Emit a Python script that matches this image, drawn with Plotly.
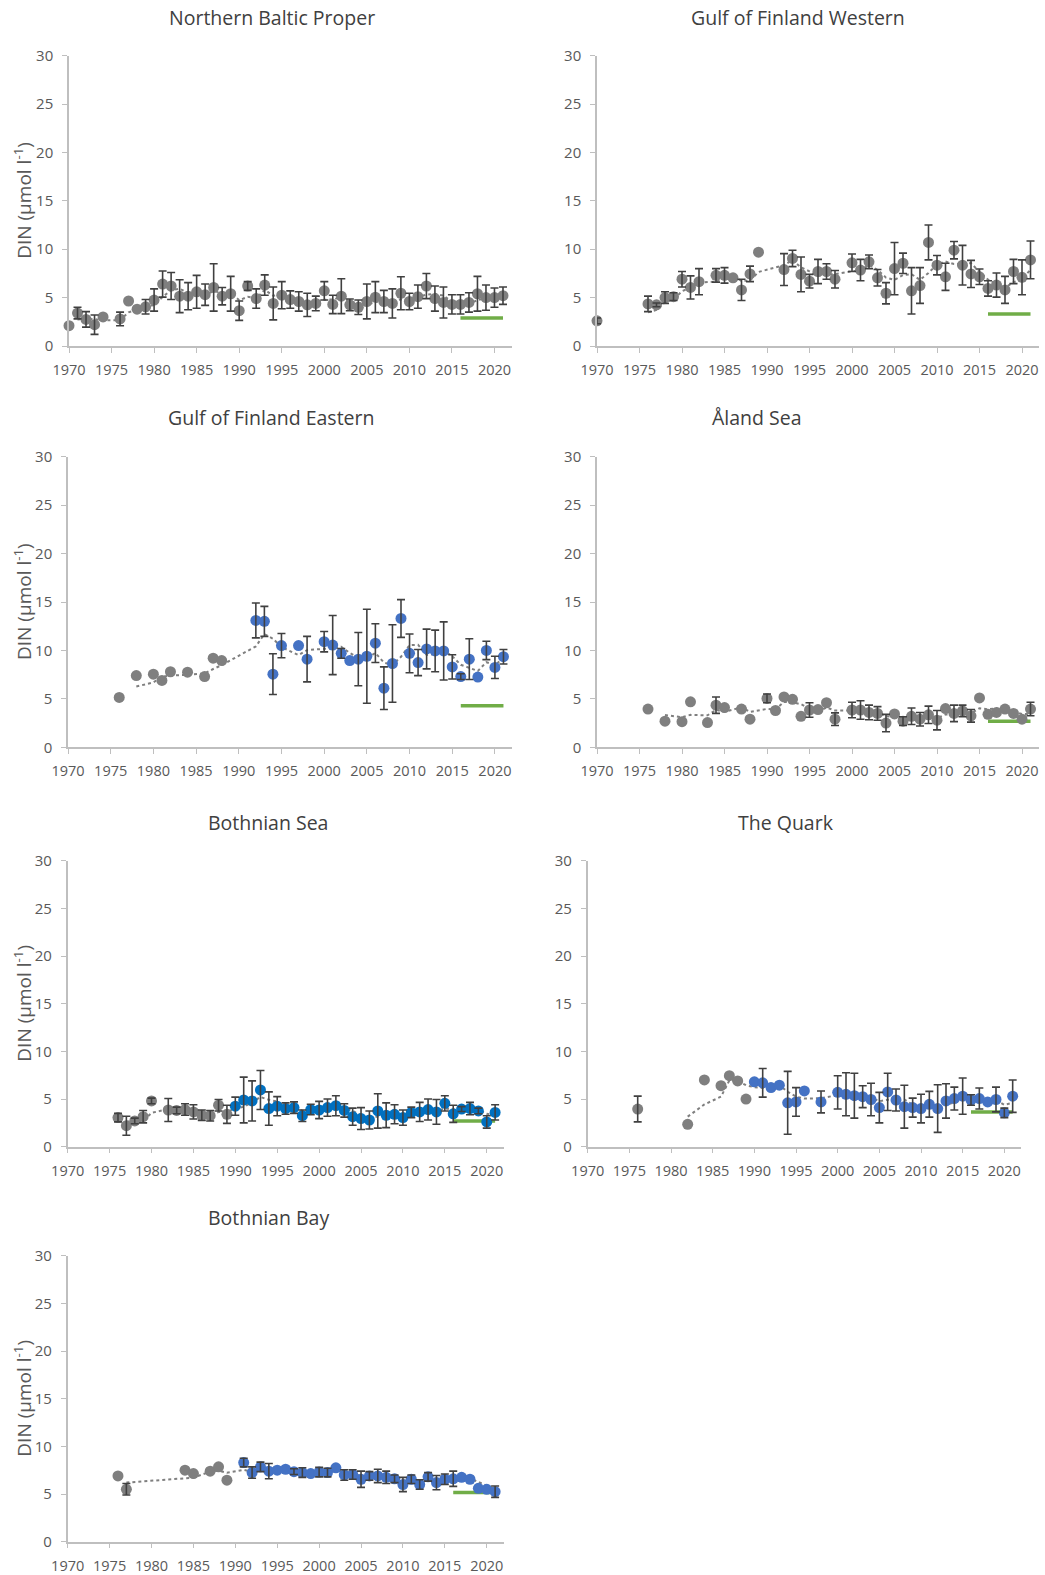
import numpy as np
import pandas as pd
import plotly.graph_objects as go

W, H = 1045, 1575
TARGET_YEARS = [2016, 2021]
XTICKS = list(range(1970, 2021, 5))

# ---------------- Northern Baltic Proper ----------------
NBP_YEARS = [1970, 1971, 1972, 1973, 1974, 1976, 1977, 1978, 1979, 1980, 1981, 1982, 1983, 1984, 1985,
             1986, 1987, 1988, 1989, 1990, 1991, 1992, 1993, 1994, 1995, 1996, 1997, 1998, 1999, 2000,
             2001, 2002, 2003, 2004, 2005, 2006, 2007, 2008, 2009, 2010, 2011, 2012, 2013, 2014, 2015,
             2016, 2017, 2018, 2019, 2020, 2021]
NBP_DIN = [2.1, 3.4, 2.75, 2.2, 3.0, 2.8, 4.65, 3.8, 4.05, 4.75, 6.4, 6.2, 5.15, 5.15, 5.6,
           5.3, 6.05, 5.15, 5.4, 3.65, 6.2, 4.9, 6.3, 4.4, 5.25, 4.8, 4.6, 4.25, 4.4, 5.7,
           4.3, 5.15, 4.25, 4.0, 4.6, 5.05, 4.6, 4.4, 5.45, 4.6, 5.1, 6.2, 4.9, 4.5, 4.3,
           4.3, 4.5, 5.4, 5.0, 5.0, 5.2]
NBP_ERR = [None, 0.6, 0.8, 1.0, None, 0.7, None, None, 0.75, 1.15, 1.35, 1.4, 1.7, 1.4, 1.7,
           1.1, 2.45, 0.9, 1.8, 1.0, 0.45, 1.0, 1.05, 1.7, 1.4, 0.9, 1.0, 1.2, 0.75, 0.95,
           0.95, 1.8, 0.6, 0.75, 1.8, 1.6, 1.15, 1.5, 1.7, 0.85, 1.2, 1.3, 1.3, 1.6, 1.0,
           1.0, 1.0, 1.8, 1.3, 1.0, 0.9]
NBP_TARGET = 2.9

# ---------------- Gulf of Finland Western ----------------
GFW_YEARS = [1970, 1976, 1977, 1978, 1979, 1980, 1981, 1982, 1984, 1985, 1986, 1987, 1988, 1989,
             1992, 1993, 1994, 1995, 1996, 1997, 1998, 2000, 2001, 2002, 2003, 2004, 2005, 2006,
             2007, 2008, 2009, 2010, 2011, 2012, 2013, 2014, 2015, 2016, 2017, 2018, 2019, 2020, 2021]
GFW_DIN = [2.6, 4.35, 4.25, 5.0, 5.1, 6.9, 6.05, 6.65, 7.3, 7.3, 7.05, 5.8, 7.45, 9.7,
           7.9, 9.05, 7.4, 6.7, 7.7, 7.7, 6.9, 8.6, 7.85, 8.7, 7.05, 5.45, 8.0, 8.55,
           5.7, 6.25, 10.7, 8.35, 7.15, 9.9, 8.35, 7.45, 7.15, 5.95, 6.3, 5.8, 7.7, 7.1, 8.9]
GFW_ERR = [0.3, 0.8, 0.2, 0.6, 0.4, 0.8, 1.2, 1.35, 0.7, 0.8, None, 1.1, 0.8, None,
           1.65, 0.85, 1.8, 0.7, 1.25, 0.8, 0.9, 0.9, 1.1, 0.7, 0.85, 1.1, 2.7, 1.05,
           2.4, 1.85, 1.8, 1.0, 1.4, 0.9, 2.05, 1.4, 0.8, 0.8, 1.25, 1.4, 1.25, 1.8, 1.95]
GFW_TARGET = 3.3

# ---------------- Gulf of Finland Eastern ----------------
GFE_YEARS = [1976, 1978, 1980, 1981, 1982, 1984, 1986, 1987, 1988,
             1992, 1993, 1994, 1995, 1997, 1998, 2000, 2001, 2002, 2003, 2004, 2005, 2006, 2007,
             2008, 2009, 2010, 2011, 2012, 2013, 2014, 2015, 2016, 2017, 2018, 2019, 2020, 2021]
GFE_DIN = [5.15, 7.4, 7.55, 6.9, 7.8, 7.75, 7.3, 9.2, 8.95,
           13.1, 13.0, 7.55, 10.5, 10.5, 9.1, 10.9, 10.55, 9.7, 8.95, 9.1, 9.4, 10.75, 6.1,
           8.65, 13.3, 9.7, 8.75, 10.15, 9.95, 9.95, 8.3, 7.3, 9.1, 7.25, 10.0, 8.25, 9.35]
GFE_ERR = [None, None, None, None, None, None, None, None, None,
           1.8, 1.55, 2.1, 1.25, None, 2.35, 1.05, 3.05, 0.5, None, 2.75, 4.85, 2.0, 2.2,
           4.0, 1.95, 2.0, 1.35, 2.05, 2.15, 3.0, 1.25, 0.3, 2.1, None, 0.95, 1.15, 0.75]
GFE_TARGET = 4.3
GFE_BLUE_FROM = 1992

# ---------------- Åland Sea ----------------
ALS_YEARS = [1976, 1978, 1980, 1981, 1983, 1984, 1985, 1987, 1988, 1990, 1991, 1992, 1993, 1994,
             1995, 1996, 1997, 1998, 2000, 2001, 2002, 2003, 2004, 2005, 2006, 2007, 2008, 2009,
             2010, 2011, 2012, 2013, 2014, 2015, 2016, 2017, 2018, 2019, 2020, 2021]
ALS_DIN = [3.95, 2.7, 2.65, 4.7, 2.55, 4.35, 4.1, 3.95, 2.9, 5.05, 3.8, 5.2, 4.95, 3.2,
           3.85, 3.9, 4.6, 2.9, 3.85, 3.85, 3.6, 3.5, 2.5, 3.45, 2.7, 3.2, 2.9, 3.35,
           2.8, 4.0, 3.5, 3.75, 3.25, 5.1, 3.4, 3.6, 3.95, 3.5, 2.9, 3.95]
ALS_ERR = [None, None, None, None, None, 0.85, None, None, None, 0.45, None, None, None, None,
           0.75, None, None, 0.65, 0.8, 0.95, 0.75, 0.7, 0.9, None, 0.45, 0.85, 0.7, 0.9,
           1.0, None, 0.85, 0.6, 0.65, None, None, None, None, None, None, 0.7]
ALS_TARGET = 2.7

# ---------------- Bothnian Sea ----------------
BS_YEARS = [1976, 1977, 1978, 1979, 1980, 1982, 1983, 1984, 1985, 1986, 1987, 1988, 1989,
            1990, 1991, 1992, 1993, 1994, 1995, 1996, 1997, 1998, 1999, 2000, 2001, 2002, 2003,
            2004, 2005, 2006, 2007, 2008, 2009, 2010, 2011, 2012, 2013, 2014, 2015, 2016, 2017,
            2018, 2019, 2020, 2021]
BS_DIN = [3.05, 2.2, 2.7, 3.15, 4.8, 3.85, 3.8, 3.9, 3.65, 3.3, 3.25, 4.35, 3.4,
          4.25, 4.9, 4.8, 5.95, 4.0, 4.25, 4.0, 4.1, 3.25, 3.9, 3.85, 4.1, 4.3, 3.8,
          3.15, 2.95, 2.8, 3.75, 3.3, 3.4, 3.05, 3.6, 3.65, 3.9, 3.65, 4.55, 3.45, 3.95,
          4.0, 3.75, 2.6, 3.6]
BS_ERR = [0.45, 1.0, 0.3, 0.65, 0.3, 1.2, 0.35, 0.6, 0.75, 0.55, 0.55, 0.6, 0.95,
          0.95, 2.4, 2.1, 2.05, 1.75, 1.0, 0.6, 0.6, 0.6, 0.55, 0.9, 0.9, 1.05, 0.7,
          0.9, 1.15, 0.95, 1.8, 1.3, 1.0, 0.8, 0.55, 1.0, 1.1, 1.3, 0.8, 0.9, 0.25,
          0.65, 0.3, 0.65, 0.8]
BS_TARGET = 2.7
BS_BLUE_FROM = 1990

# ---------------- The Quark ----------------
QK_YEARS = [1976, 1982, 1984, 1986, 1987, 1988, 1989,
            1990, 1991, 1992, 1993, 1994, 1995, 1996, 1998, 2000, 2001, 2002, 2003, 2004, 2005,
            2006, 2007, 2008, 2009, 2010, 2011, 2012, 2013, 2014, 2015, 2016, 2017, 2018, 2019,
            2020, 2021]
QK_DIN = [3.95, 2.35, 7.0, 6.4, 7.45, 6.9, 5.0,
          6.8, 6.7, 6.2, 6.45, 4.6, 4.7, 5.85, 4.7, 5.7, 5.5, 5.35, 5.25, 4.95, 4.1,
          5.75, 4.9, 4.2, 4.1, 4.0, 4.45, 4.0, 4.8, 5.05, 5.3, 4.9, 5.05, 4.7, 4.95,
          3.55, 5.3]
QK_ERR = [1.35, None, None, None, None, None, None,
          None, 1.5, None, None, 3.3, 1.5, None, 1.15, 1.75, 2.25, 2.35, 1.15, 1.7, 1.6,
          1.95, 1.15, 2.25, 1.0, 1.5, 1.35, 2.5, 1.8, 1.2, 1.9, 0.55, 1.1, None, 1.3,
          0.5, 1.7]
QK_TARGET = 3.65
QK_BLUE_FROM = 1990

# ---------------- Bothnian Bay ----------------
BB_YEARS = [1976, 1977, 1984, 1985, 1987, 1988, 1989,
            1991, 1992, 1993, 1994, 1995, 1996, 1997, 1998, 1999, 2000, 2001, 2002, 2003, 2004,
            2005, 2006, 2007, 2008, 2009, 2010, 2011, 2012, 2013, 2014, 2015, 2016, 2017, 2018,
            2019, 2020, 2021]
BB_DIN = [6.9, 5.5, 7.5, 7.15, 7.4, 7.85, 6.45,
          8.3, 7.25, 7.85, 7.4, 7.5, 7.6, 7.35, 7.25, 7.15, 7.3, 7.25, 7.75, 7.0, 7.05,
          6.55, 6.9, 6.9, 6.75, 6.6, 6.0, 6.55, 6.0, 6.8, 6.2, 6.55, 6.6, 6.75, 6.55,
          5.6, 5.5, 5.25]
BB_ERR = [None, 0.6, None, None, None, None, None,
          0.45, 0.6, 0.5, 0.8, None, None, 0.3, 0.5, None, 0.5, 0.45, None, 0.55, 0.5,
          0.85, 0.45, 0.7, 0.65, 0.4, 0.75, 0.45, 0.5, 0.45, 0.75, 0.55, 0.8, None, None,
          None, None, 0.6]
BB_TARGET = 5.15
BB_BLUE_FROM = 1991

GRAY = "#7f7f7f"
BLUE = "#4472C4"
BLUE2 = "#0070C0"
ERRC = "#404040"
GREEN = "#70AD47"
AXC = "#bfbfbf"
TXT = "#595959"
TITLEC = "#404040"
FONT = "Open Sans"

# panel: title, years, din, err, target, blue_from, blue colour, plot-area px (x0, x1, ytop, ybottom), title pos (x, y), ylabel
panels = [
    ("Northern Baltic Proper", NBP_YEARS, NBP_DIN, NBP_ERR, NBP_TARGET, None, BLUE, (69, 511.5, 55.7, 346), (272, 17), True),
    ("Gulf of Finland Western", GFW_YEARS, GFW_DIN, GFW_ERR, GFW_TARGET, None, BLUE, (597, 1039, 55.7, 346), (798, 17), False),
    ("Gulf of Finland Eastern", GFE_YEARS, GFE_DIN, GFE_ERR, GFE_TARGET, GFE_BLUE_FROM, BLUE, (68, 512, 456.7, 747.3), (271, 417), True),
    ("Åland Sea", ALS_YEARS, ALS_DIN, ALS_ERR, ALS_TARGET, None, BLUE, (597, 1039, 456.7, 747.3), (757, 417), False),
    ("Bothnian Sea", BS_YEARS, BS_DIN, BS_ERR, BS_TARGET, BS_BLUE_FROM, BLUE2, (67.7, 503.5, 860.7, 1146.7), (268, 822), True),
    ("The Quark", QK_YEARS, QK_DIN, QK_ERR, QK_TARGET, QK_BLUE_FROM, BLUE, (587.7, 1021, 860.7, 1146.7), (786, 822), False),
    ("Bothnian Bay", BB_YEARS, BB_DIN, BB_ERR, BB_TARGET, BB_BLUE_FROM, BLUE, (67.7, 503.5, 1255.7, 1541.7), (268, 1217), True),
]

fig = go.Figure()
annotations = []
layout_axes = {}

for i, (title, yrs, din, err, target, blue_from, bcol, (x0, x1, yt, yb), (tx, ty), ylab) in enumerate(panels):
    n = i + 1
    xa = "x" if n == 1 else f"x{n}"
    ya = "y" if n == 1 else f"y{n}"
    xkey = "xaxis" if n == 1 else f"xaxis{n}"
    ykey = "yaxis" if n == 1 else f"yaxis{n}"

    yrs_a = np.array(yrs, dtype=float)
    din_a = np.array(din, dtype=float)
    err_a = np.array([np.nan if e is None else e for e in err], dtype=float)

    # moving-average trend (3 points)
    trend = pd.Series(din_a).rolling(3, min_periods=2).mean().values
    fig.add_trace(go.Scatter(x=yrs_a[1:], y=trend[1:], mode="lines", xaxis=xa, yaxis=ya,
                             line=dict(color=GRAY, width=2, dash="dot"), showlegend=False,
                             hoverinfo="skip", cliponaxis=False))

    # target line
    fig.add_trace(go.Scatter(x=TARGET_YEARS, y=[target, target], mode="lines", xaxis=xa, yaxis=ya,
                             line=dict(color=GREEN, width=3.5), showlegend=False, cliponaxis=False))

    if blue_from is None:
        mask_blue = np.zeros(len(yrs_a), dtype=bool)
    else:
        mask_blue = yrs_a >= blue_from
    cols = np.where(mask_blue, bcol, GRAY)

    fig.add_trace(go.Scatter(x=yrs_a, y=din_a, mode="markers", xaxis=xa, yaxis=ya,
                             marker=dict(color=list(cols), size=11, line=dict(width=0)),
                             showlegend=False, cliponaxis=False))
    # error bars on top
    fig.add_trace(go.Scatter(x=yrs_a, y=din_a, mode="markers", xaxis=xa, yaxis=ya,
                             marker=dict(color="rgba(0,0,0,0)", size=1),
                             error_y=dict(type="data", array=err_a, visible=True, color=ERRC,
                                          thickness=1.6, width=4),
                             showlegend=False, hoverinfo="skip", cliponaxis=False))

    layout_axes[xkey] = dict(domain=[x0 / W, x1 / W], anchor=ya, range=[1970, 2022],
                             tickvals=XTICKS, ticktext=[str(t) for t in XTICKS], automargin=False,
                             showgrid=False, zeroline=False, showline=True, linecolor=AXC, linewidth=1.5,
                             ticks="outside", ticklen=5, tickcolor=AXC, tickwidth=1.2,
                             tickfont=dict(family=FONT, size=14.5, color=TXT), ticklabelstandoff=5)
    layout_axes[ykey] = dict(domain=[1 - yb / H, 1 - yt / H], anchor=xa, range=[0, 30],
                             tickvals=[0, 5, 10, 15, 20, 25, 30], automargin=False,
                             showgrid=False, zeroline=False, showline=True, linecolor=AXC, linewidth=1.5,
                             ticks="outside", ticklen=5, tickcolor=AXC, tickwidth=1.2,
                             tickfont=dict(family=FONT, size=15, color=TXT), ticklabelstandoff=6)

    annotations.append(dict(text=title, x=tx / W, y=1 - ty / H, xref="paper", yref="paper",
                            xanchor="center", yanchor="middle", showarrow=False,
                            font=dict(family=FONT, size=19.5, color=TITLEC)))
    if ylab:
        annotations.append(dict(text="DIN (µmol l<sup>-1</sup>)", x=23 / W, y=1 - ((yt + yb) / 2) / H,
                                xref="paper", yref="paper", xanchor="center", yanchor="middle",
                                textangle=-90, showarrow=False,
                                font=dict(family=FONT, size=19, color=TXT)))

fig.update_layout(width=W, height=H, margin=dict(l=0, r=0, t=0, b=0),
                  paper_bgcolor="white", plot_bgcolor="white",
                  annotations=annotations, showlegend=False, **layout_axes)

fig.write_html("out.html")
